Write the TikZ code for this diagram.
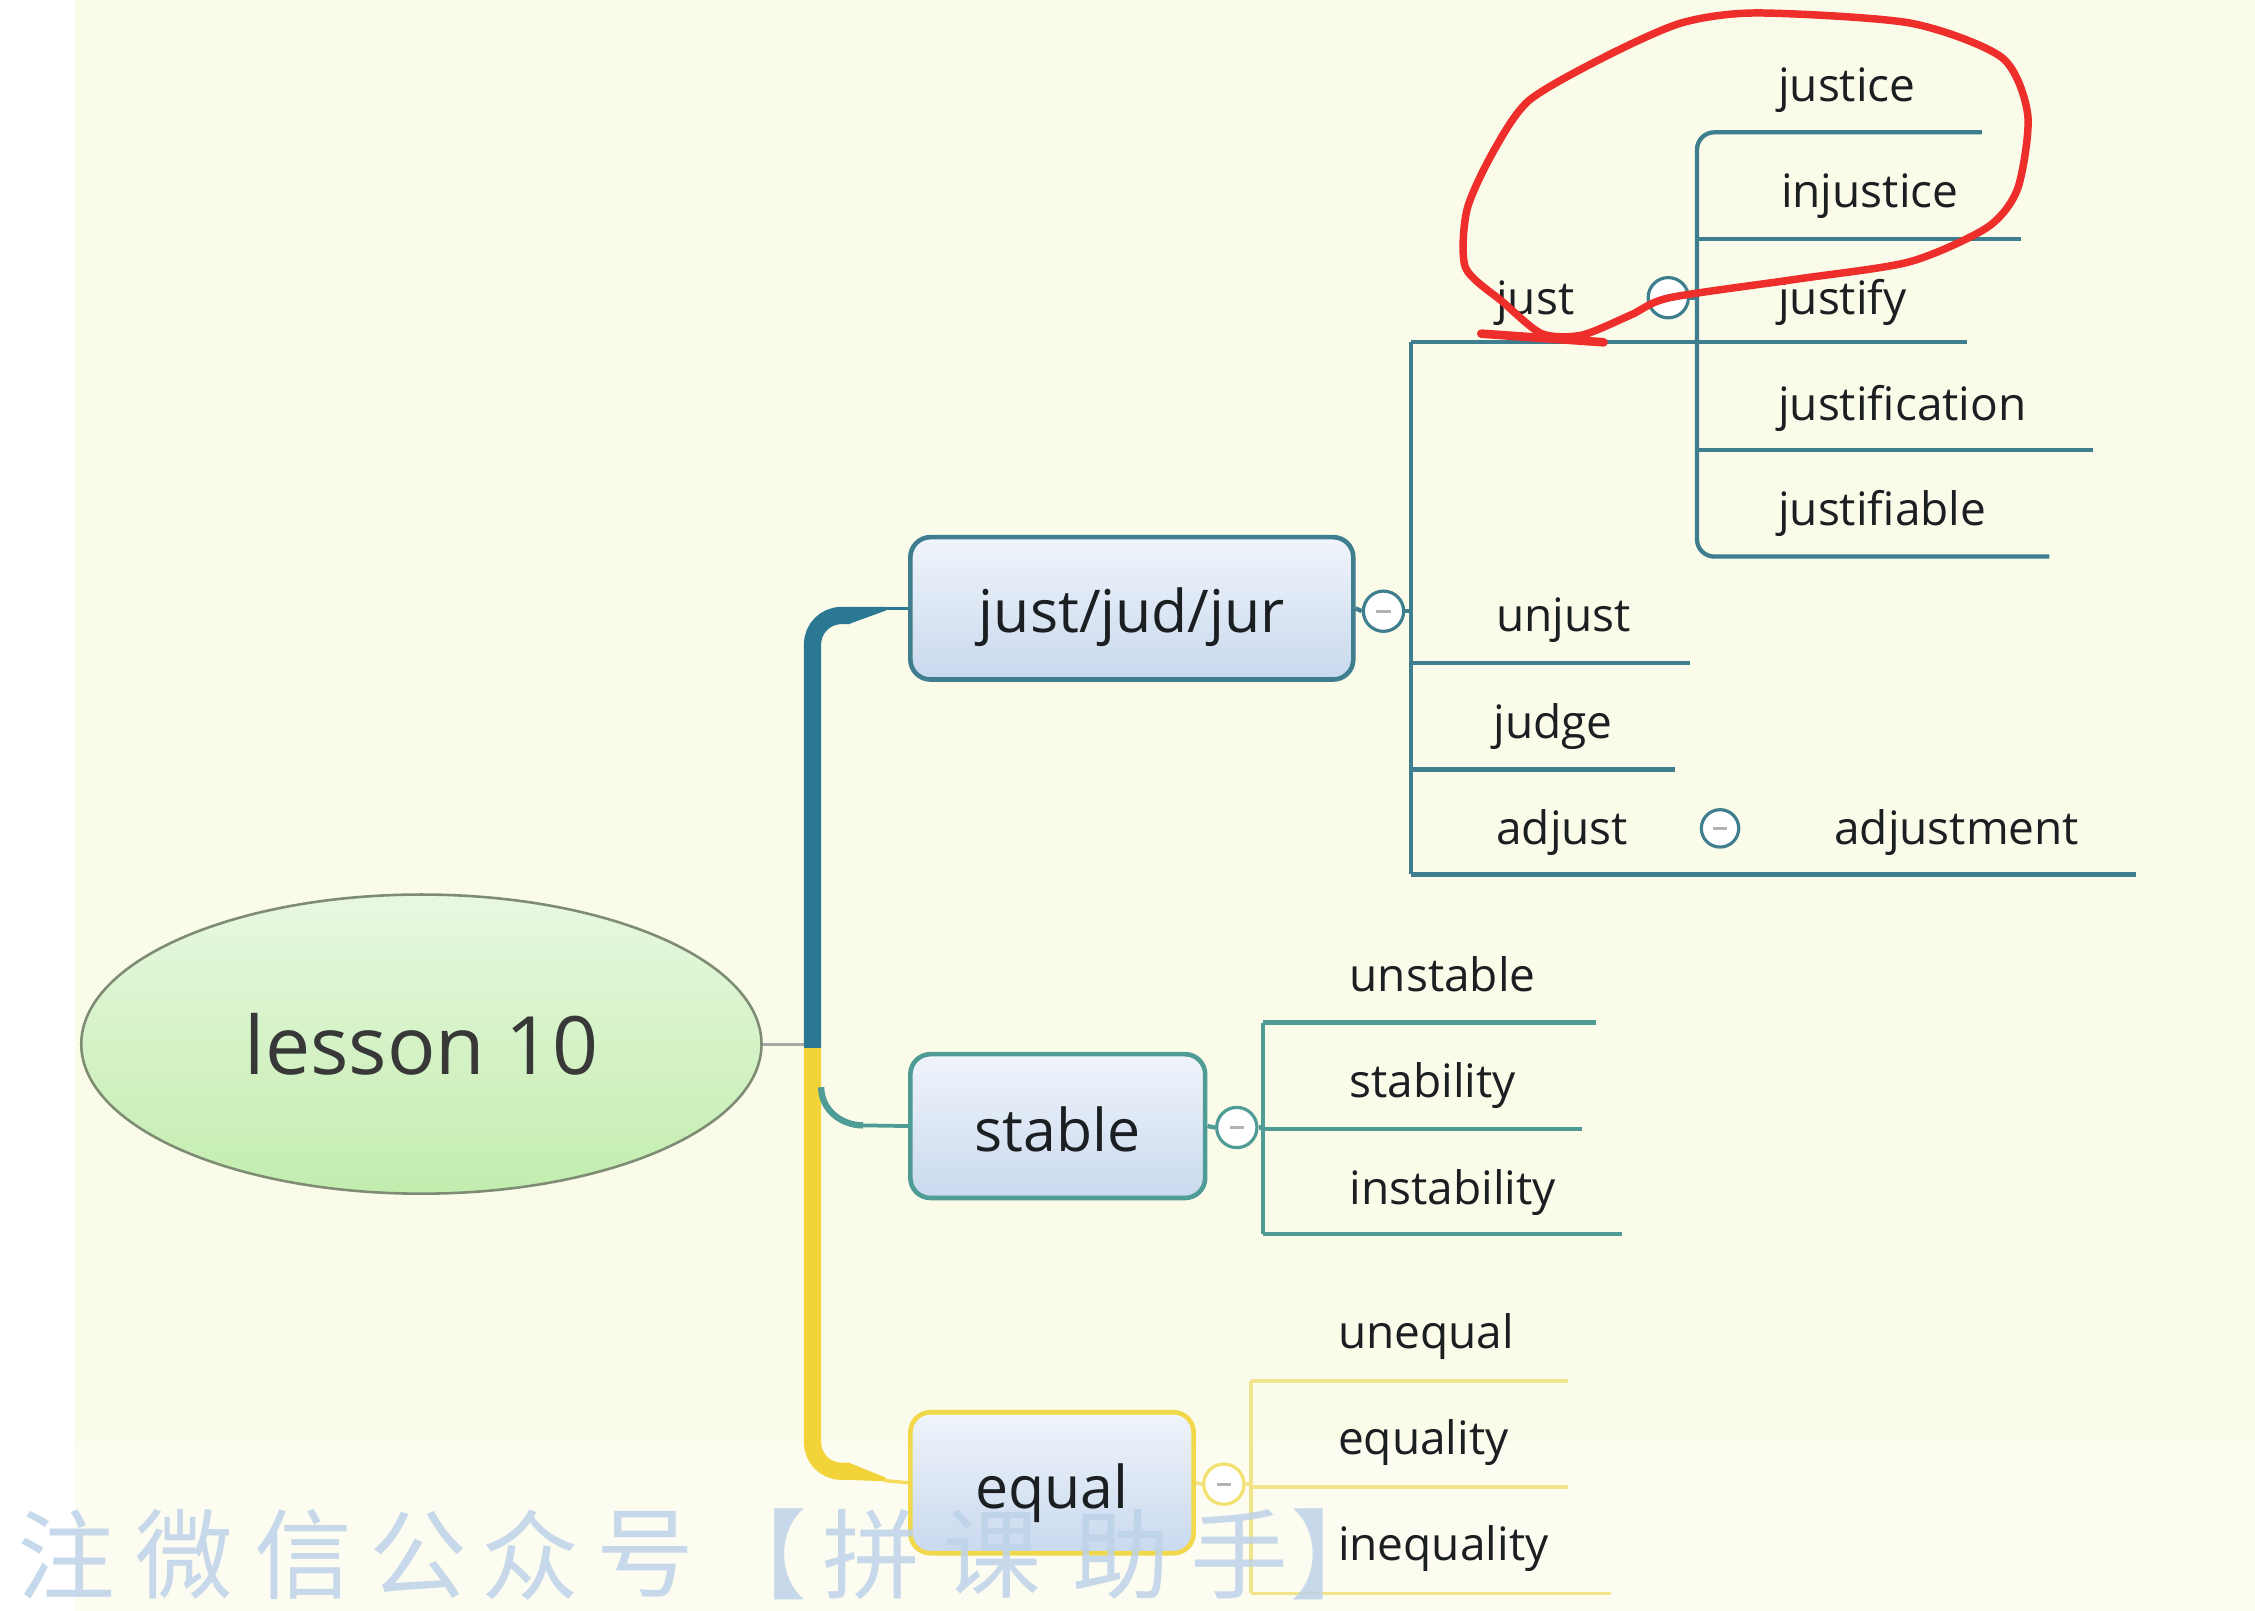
\documentclass[tikz,border=0pt]{standalone}
\usepackage{fontspec}
\setmainfont{Open Sans}
\newfontfamily\cjk{Noto Sans CJK SC}
\usetikzlibrary{shapes.geometric}
\definecolor{bgc}{HTML}{FBFBEA}
\definecolor{trunkblue}{HTML}{2A7892}
\definecolor{jcol}{HTML}{3E7E8E}
\definecolor{scol}{HTML}{4F9C96}
\definecolor{ecol}{HTML}{F0D84A}
\definecolor{elin}{HTML}{F1E48A}
\definecolor{ytrunk}{HTML}{F2D339}
\definecolor{boxtop}{HTML}{F0F4FB}
\definecolor{boxbot}{HTML}{C9D9EE}
\definecolor{eltop}{HTML}{E8F8E0}
\definecolor{elbot}{HTML}{C2EDAE}
\definecolor{elborder}{HTML}{7E8C74}
\definecolor{txt}{HTML}{1B1F22}
\definecolor{redann}{HTML}{EE2E2A}
\definecolor{wmcol}{HTML}{BDD2E8}
\tikzset{
  leaf/.style={anchor=mid west, inner sep=0pt, yshift=-3pt, font=\fontsize{16}{18}\selectfont, text=txt},
  topicbox/.style={rectangle, rounded corners=7pt, line width=1.6pt, draw=#1,
    top color=boxtop, bottom color=boxbot, inner sep=0pt,
    font=\fontsize{20.5}{24}\selectfont, text=txt},
  mbtn/.style={circle, draw=#1, line width=1.1pt, fill=white, minimum size=14pt, inner sep=0pt,
    path picture={\draw[gray!60, line width=1pt]
      ([xshift=-2.5pt]path picture bounding box.center) -- ([xshift=2.5pt]path picture bounding box.center);}},
  jline/.style={draw=jcol, line width=1.5pt},
  sline/.style={draw=scol, line width=1.5pt},
  eline/.style={draw=elin, line width=1.3pt},
  wm/.style={inner sep=0pt, text=wmcol, font=\cjk\fontsize{34}{36}\selectfont, opacity=0.85}
}
\begin{document}
\begin{tikzpicture}[x=0.5pt,y=-0.5pt]
\useasboundingbox (0,0) rectangle (1568,1120);
\fill[white] (0,0) rectangle (1568,1120);
\fill[bgc] (52,0) rectangle (1568,1120);
\fill[white, opacity=0.35] (0,1003) rectangle (1568,1120);

% ---------- central topic ----------
\node[ellipse, draw=elborder, line width=0.9pt, top color=eltop, bottom color=elbot,
      minimum width=236.5pt, minimum height=104pt, inner sep=0pt,
      font=\fontsize{28}{32}\selectfont, text=black!78] (root) at (293,726) {lesson 10};

% ---------- main topics ----------
\node[topicbox=jcol, minimum width=154pt, minimum height=49.5pt] (jbox) at (787,423) {\raisebox{-3pt}[\height][\depth]{just/jud/jur}};
\node[topicbox=scol, minimum width=102.5pt, minimum height=50pt] (sbox) at (735.5,783) {\raisebox{-1pt}[\height][\depth]{stable}};
\node[topicbox=ecol, minimum width=98.5pt, minimum height=49pt] (ebox) at (731.5,1031) {\raisebox{-3.5pt}[\height][\depth]{equal}};

% ---------- trunk ----------
\coordinate (tmid) at (565,726);
\coordinate (ttop) at (565,428);
\coordinate (tbot) at (565,1023);
\draw[gray!70, line width=1pt] (root.east) -- (tmid);
\draw[trunkblue, line width=6pt, rounded corners=10pt] (tmid) -- (ttop) -- (591,428);
\fill[trunkblue] (590,422) -- (616,422) -- (616,424.5) -- (590,434) -- cycle;
\draw[trunkblue, line width=1.2pt] (615,423) -- (jbox.west);
\draw[ytrunk, line width=6pt, rounded corners=10pt] (tmid) -- (tbot) -- (591,1023);
\fill[ytrunk] (590,1017) -- (616,1027.5) -- (616,1030) -- (590,1029) -- cycle;
\draw[ytrunk!80!white, line width=1.2pt] (615,1029.5) -- (ebox.west);
\draw[trunkblue, line width=6pt] (565,722) -- (565,729);
\draw[scol, line width=2.2pt] (571,756) to[out=-90,in=180] (600,782.5);
\draw[scol, line width=1.3pt] (598,782.5) -- (sbox.west);

% ---------- just/jud/jur branch ----------
\node[mbtn=jcol] (jm) at (962,425) {};
\coordinate (jvt) at (981,238);
\coordinate (jvb) at (981,608);
\draw[jline] (jbox.east) -- (jm.west);
\draw[jline] (jm.east) -- (981,425);
\draw[jline] (jvt) -- (jvb);

\node[leaf] (just) at (1040,207) {just};
\node[mbtn=jcol] (justm) at (1160,207) {};
\draw[jline] (jvt) -- (1368,238);
\draw[jline] (justm.east) -- (1180,207);
\draw[jline, rounded corners=6pt] (1378,92) -- (1180,92) -- (1180,387) -- (1425,387);
\draw[jline] (1180,166) -- (1405,166);
\draw[jline] (1180,313) -- (1455,313);
\node[leaf] (justice) at (1236,59) {justice};
\node[leaf] (injustice) at (1238,133) {injustice};
\node[leaf] (justify) at (1236,207) {justify};
\node[leaf] (justification) at (1236,281) {justification};
\node[leaf] (justifiable) at (1236,354) {justifiable};

\node[leaf] (unjust) at (1040,428) {unjust};
\draw[jline] (981,461) -- (1175,461);
\node[leaf] (judge) at (1038,502) {judge};
\draw[jline] (981,535) -- (1165,535);
\node[leaf] (adjust) at (1040,576) {adjust};
\node[mbtn=jcol, minimum size=13pt] (adjm) at (1196,576) {};
\node[leaf] (adjustment) at (1275,576) {adjustment};
\draw[jline] (jvb) -- (1485,608);

% ---------- stable branch ----------
\node[mbtn=scol] (sm) at (860,784) {};
\draw[sline] (sbox.east) -- (sm.west);
\draw[sline] (sm.east) -- (878,784);
\draw[sline] (878,711) -- (878,858);
\draw[sline] (878,711) -- (1110,711);
\draw[sline] (878,785) -- (1100,785);
\draw[sline] (878,858) -- (1128,858);
\node[leaf] (unstable) at (938,678) {unstable};
\node[leaf] (stability) at (938,752) {stability};
\node[leaf] (instability) at (938,826) {instability};

% ---------- equal branch ----------
\node[mbtn=ecol!80!white] (em) at (851,1032) {};
\draw[eline] (ebox.east) -- (em.west);
\draw[eline] (em.east) -- (870,1032);
\draw[eline] (870,960) -- (870,1108);
\draw[eline] (870,960) -- (1090,960);
\draw[eline] (870,1034) -- (1090,1034);
\draw[eline] (870,1108) -- (1120,1108);
\node[leaf] (unequal) at (930,926) {unequal};
\node[leaf] (equality) at (930,1000) {equality};
\node[leaf] (inequality) at (930,1074) {inequality};

% ---------- red annotation ----------
\draw[redann, line width=2.6pt, line cap=round, line join=round]
  plot[smooth cycle, tension=0.45] coordinates {
    (1161,207) (1250,194) (1328,182) (1382,158) (1403,131) (1410,80) (1392,40)
    (1328,16) (1222,9) (1169,16) (1115,40) (1063,70) (1038,106) (1020,146)
    (1019,186) (1045,210) (1072,232) (1100,233) (1134,219)};
\draw[redann, line width=3pt, line cap=round] (1030,232) -- (1115,238);

% ---------- watermark ----------
\node[wm] (wm1) at (46,1081) {注};
\node[wm] (wm2) at (128,1081) {微};
\node[wm] (wm3) at (211,1081) {信};
\node[wm] (wm4) at (291,1081) {公};
\node[wm] (wm5) at (369,1081) {众};
\node[wm] (wm6) at (449,1081) {号};
\node[wm] (wm7) at (527,1081) {【};
\node[wm] (wm8) at (606,1081) {拼};
\node[wm] (wm9) at (690,1081) {课};
\node[wm] (wm10) at (780,1081) {助};
\node[wm] (wm11) at (862,1081) {手};
\node[wm] (wm12) at (931,1081) {】};
\end{tikzpicture}
\end{document}
